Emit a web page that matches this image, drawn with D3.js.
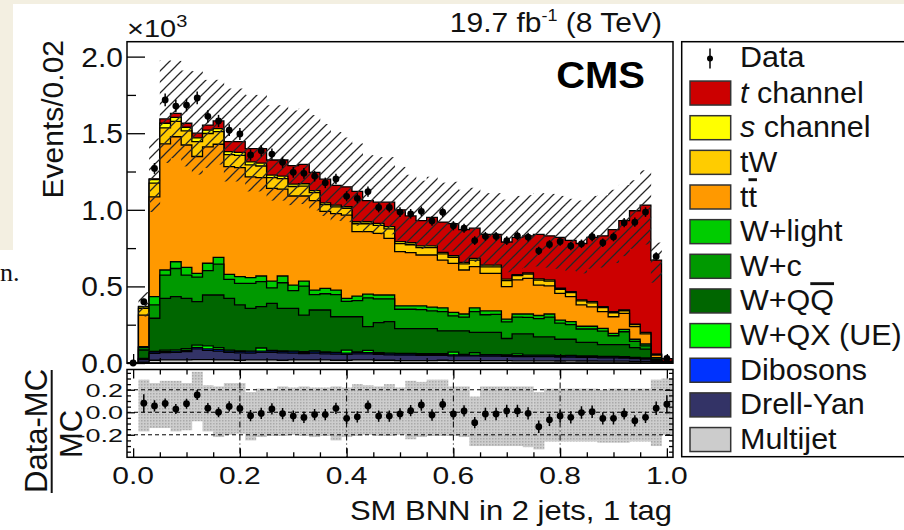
<!DOCTYPE html>
<html><head><meta charset="utf-8">
<script src="https://cdn.jsdelivr.net/npm/d3@7"></script>
<style>
html,body{margin:0;padding:0;background:#fff;}
svg{display:block;font-family:"Liberation Sans",Arial,sans-serif;}
</style></head><body>
<svg id="c" width="904" height="530"></svg>
<script>
// ---------------- DATA (units: 10^3 events / 0.02) ----------------
const binCenters = [0.00,0.02,0.04,0.06,0.08,0.10,0.12,0.14,0.16,0.18,0.20,0.22,0.24,0.26,0.28,0.30,0.32,0.34,0.36,0.38,0.40,0.42,0.44,0.46,0.48,0.50,0.52,0.54,0.56,0.58,0.60,0.62,0.64,0.66,0.68,0.70,0.72,0.74,0.76,0.78,0.80,0.82,0.84,0.86,0.88,0.90,0.92,0.94,0.96,0.98,1.00];
const binWidth = 0.02;

const tChannel = [0,.003,.004,.028,.026,.026,.030,.033,.050,.065,.070,.087,.095,.098,.105,.120,.127,.120,.155,.130,.130,.198,.138,.139,.160,.208,.175,.165,.185,.198,.210,.213,.197,.201,.201,.242,.243,.242,.291,.287,.332,.334,.368,.420,.462,.535,.584,.740,.831,.615,.018];
const sChannel = [0,.011,.024,.030,.027,.024,.025,.022,.020,.020,.020,.020,.019,.017,.017,.016,.016,.013,.011,.011,.011,.013,.013,.013,.015,.013,.013,.012,.012,.010,.010,.010,.011,.011,.011,.010,.007,.007,.008,.008,.007,.007,.007,.007,.007,.007,.005,.004,.002,.001,0];
const tW       = [0,.043,.090,.104,.100,.092,.097,.087,.082,.078,.080,.078,.076,.070,.068,.062,.064,.052,.044,.044,.044,.052,.052,.052,.061,.052,.052,.048,.048,.040,.040,.040,.043,.043,.043,.040,.028,.028,.032,.032,.026,.026,.026,.026,.026,.026,.017,.013,.008,.004,.001];
const ttbar    = [0,.207,.651,.824,.816,.799,.763,.760,.738,.703,.711,.658,.642,.605,.567,.581,.555,.584,.503,.499,.543,.420,.407,.402,.370,.354,.347,.332,.340,.312,.320,.287,.269,.245,.245,.211,.222,.233,.199,.183,.175,.163,.139,.127,.109,.108,.104,.082,.066,.017,.003];
const wLight   = [0,.006,.054,.033,.044,.050,.025,.048,.044,.033,.044,.037,.037,.045,.044,.037,.033,.030,.035,.030,.020,.030,.025,.025,.025,.022,.022,.025,.025,.025,.022,.020,.025,.025,.022,.018,.020,.022,.020,.020,.020,.020,.018,.018,.018,.016,.016,.014,.012,.008,.001];
const wC       = [0,.015,.087,.152,.184,.152,.160,.159,.202,.124,.141,.163,.163,.101,.167,.115,.189,.100,.106,.144,.100,.105,.188,.156,.149,.126,.126,.123,.115,.125,.098,.090,.135,.115,.118,.109,.110,.108,.120,.130,.105,.095,.087,.087,.088,.058,.084,.041,.022,.005,.001];
const wQQ      = [0,.055,.216,.338,.347,.329,.283,.332,.344,.338,.300,.280,.270,.306,.278,.279,.239,.267,.274,.232,.218,.230,.154,.196,.206,.163,.163,.164,.164,.149,.139,.154,.133,.145,.145,.107,.130,.139,.119,.119,.107,.106,.089,.089,.077,.077,.079,.063,.056,.002,.001];
const wQX      = [0,.004,.005,.008,.008,.010,.015,.020,.012,.006,.005,.004,.020,.005,.005,.005,.004,.006,.004,.004,.020,.004,.015,.004,.004,.004,.004,.004,.004,.004,.018,.004,.015,.004,.004,.004,.012,.004,.004,.004,.004,.004,.004,.004,.004,.004,.004,.004,.004,.002,0];
const dibosons = [0,.004,.008,.008,.008,.008,.010,.010,.010,.008,.008,.008,.008,.008,.008,.008,.008,.008,.008,.008,.008,.008,.008,.007,.007,.007,.007,.007,.007,.007,.007,.006,.006,.006,.006,.006,.006,.006,.006,.006,.006,.006,.005,.005,.005,.005,.005,.004,.004,.002,0];
const drellYan = [0,.016,.045,.048,.050,.055,.070,.060,.058,.050,.048,.045,.050,.050,.048,.045,.042,.045,.040,.040,.038,.040,.040,.038,.035,.035,.035,.034,.034,.032,.030,.030,.030,.030,.030,.028,.028,.027,.027,.027,.025,.025,.024,.024,.022,.022,.020,.018,.016,.008,.001];
const multijet = [0,.006,.018,.020,.020,.020,.022,.022,.020,.020,.018,.020,.020,.020,.018,.020,.020,.020,.020,.018,.018,.020,.020,.018,.018,.016,.016,.016,.016,.018,.016,.016,.016,.015,.015,.015,.014,.014,.014,.014,.013,.014,.013,.013,.012,.012,.012,.011,.010,.008,.002];

const dataObs  = [0,.400,1.270,1.717,1.677,1.684,1.730,1.610,1.580,1.520,1.495,1.358,1.386,1.364,1.310,1.245,1.238,1.220,1.176,1.201,1.088,1.075,1.119,1.015,1.015,.985,.974,.990,.927,.984,.896,.880,.799,.827,.827,.799,.830,.822,.732,.774,.793,.764,.778,.824,.785,.823,.916,.919,.985,.696,.030];

// relative MC uncertainty: hatched band (main) and grey band (ratio)
const hatchUp  = [0,.25,.22,.24,.21,.22,.27,.19,.17,.24,.24,.25,.25,.27,.27,.28,.28,.30,.30,.30,.28,.28,.28,.28,.28,.28,.28,.28,.28,.28,.30,.30,.30,.32,.32,.35,.33,.32,.32,.33,.33,.34,.36,.33,.32,.30,.25,.20,.22,.17,.30];
const hatchDn  = [0,.18,.18,.18,.18,.18,.18,.18,.18,.18,.18,.20,.20,.20,.20,.20,.20,.20,.20,.20,.20,.20,.20,.20,.20,.20,.20,.20,.20,.20,.20,.25,.25,.25,.25,.25,.25,.25,.25,.25,.25,.25,.25,.25,.25,.25,.25,.25,.25,.22,.30];
const ratioUp  = [0,.29,.26,.28,.28,.26,.36,.24,.23,.26,.26,.18,.21,.21,.23,.22,.23,.22,.22,.23,.22,.25,.24,.23,.25,.22,.28,.27,.29,.29,.23,.23,.14,.23,.23,.23,.23,.23,.18,.21,.21,.21,.21,.21,.20,.21,.21,.21,.21,.29,.30];
const ratioDn  = [0,.17,.14,.14,.17,.16,.08,.17,.22,.20,.19,.25,.22,.21,.21,.20,.21,.22,.21,.25,.22,.21,.20,.21,.21,.20,.24,.22,.21,.21,.21,.22,.30,.30,.30,.30,.30,.31,.33,.26,.26,.26,.26,.26,.27,.27,.27,.26,.26,.30,.20];
const ratioErr = [0,.08,.05,.045,.045,.045,.045,.045,.045,.045,.045,.05,.05,.05,.05,.05,.05,.05,.05,.05,.05,.05,.05,.05,.05,.05,.05,.05,.05,.05,.05,.05,.05,.055,.055,.055,.055,.055,.055,.055,.055,.055,.055,.055,.055,.055,.05,.05,.05,.06,.08];

const mainYMajor = [0,0.5,1.0,1.5,2.0];
const mainYMinor = [0.25,0.75,1.25,1.75];
const xMajor = [0,0.2,0.4,0.6,0.8,1.0];
const xMinor = [0.05,0.1,0.15,0.25,0.3,0.35,0.45,0.5,0.55,0.65,0.7,0.75,0.85,0.9,0.95];
const ratioMajor = [-0.2,0,0.2];
const ratioMinor = [-0.35,-0.3,-0.25,-0.15,-0.1,-0.05,0.05,0.1,0.15,0.25,0.3,0.35];

const keys = ["multijet","drellYan","dibosons","wQX","wQQ","wC","wLight","ttbar","tW","sChannel","tChannel"];
const series = {multijet,drellYan,dibosons,wQX,wQQ,wC,wLight,ttbar,tW,sChannel,tChannel};
const colors = {multijet:"#cccccc",drellYan:"#333366",dibosons:"#0033ff",wQX:"#00ff00",wQQ:"#006600",wC:"#009900",wLight:"#00cc00",ttbar:"#ff9900",tW:"#ffcc00",sChannel:"#ffff00",tChannel:"#cc0000"};
const legendRows = [
  {key:"tChannel", parts:[["t","italic"],[" channel"]]},
  {key:"sChannel", parts:[["s","italic"],[" channel"]]},
  {key:"tW", parts:[["tW"]]},
  {key:"ttbar", parts:[["t"],["t","over"]]},
  {key:"wLight", parts:[["W+light"]]},
  {key:"wC", parts:[["W+c"]]},
  {key:"wQQ", parts:[["W+Q"],["Q","over"]]},
  {key:"wQX", parts:[["W+QX (UE)"]]},
  {key:"dibosons", parts:[["Dibosons"]]},
  {key:"drellYan", parts:[["Drell-Yan"]]},
  {key:"multijet", parts:[["Multijet"]]}
];

// ---------------- DRAW ----------------
const W=904,H=530;
const svg=d3.select("#c");
const defs=svg.append("defs");
const hp=defs.append("pattern").attr("id","hatch").attr("patternUnits","userSpaceOnUse").attr("width",11).attr("height",11);
hp.append("path").attr("d","M0,11 L11,0 M-5.5,5.5 L5.5,-5.5 M5.5,16.5 L16.5,5.5").attr("stroke","#262626").attr("stroke-width",1.25);
const gp=defs.append("pattern").attr("id","grey").attr("patternUnits","userSpaceOnUse").attr("width",3).attr("height",3);
gp.append("rect").attr("width",3).attr("height",3).attr("fill","#cdcdcd");
gp.append("rect").attr("width",1.5).attr("height",1.5).attr("fill","#a9a9a9");
defs.append("clipPath").attr("id","mainClip").append("rect").attr("x",127).attr("y",41.7).attr("width",546).attr("height",321.5);
defs.append("clipPath").attr("id","ratioClip").append("rect").attr("x",127).attr("y",369.5).attr("width",546).attr("height",87.8);

svg.append("rect").attr("width",W).attr("height",H).attr("fill","#fff");
svg.append("rect").attr("x",0).attr("y",0).attr("width",W).attr("height",4).attr("fill","#f3efe1");
svg.append("rect").attr("x",0).attr("y",0).attr("width",13).attr("height",250).attr("fill","#f3efe1");
svg.append("text").attr("x",0).attr("y",281).attr("font-family","'Liberation Serif',serif").attr("font-size",26).attr("fill","#111").text("n.");

const x=d3.scaleLinear().domain([-0.0115,1.0115]).range([127,673]);
const y=d3.scaleLinear().domain([0,2.1]).range([363,41.3]);
const yr=d3.scaleLinear().domain([-0.4,0.38]).range([457.3,369.5]);

const rows=binCenters.map((c,i)=>{const r={c}; keys.forEach(k=>r[k]=series[k][i]); return r;});
const stacked=d3.stack().keys(keys)(rows);
const mcTotal=rows.map((r,i)=>stacked[stacked.length-1][i][1]);

function stepPath(vals){
  let d=`M${x(binCenters[0]-binWidth/2)},${y(0)}`;
  vals.forEach((v,i)=>{d+=`L${x(binCenters[i]-binWidth/2)},${y(v)}L${x(binCenters[i]+binWidth/2)},${y(v)}`;});
  d+=`L${x(binCenters[binCenters.length-1]+binWidth/2)},${y(0)}Z`;
  return d;
}
const gMain=svg.append("g").attr("clip-path","url(#mainClip)");
for(let k=stacked.length-1;k>=0;k--){
  const tops=stacked[k].map(d=>d[1]);
  gMain.append("path").attr("d",stepPath(tops)).attr("fill",colors[stacked[k].key]).attr("stroke","#000").attr("stroke-width",1.3).attr("stroke-linejoin","miter");
}
// hatched uncertainty band
gMain.selectAll("rect.band").data(binCenters.map((c,i)=>i).filter(i=>mcTotal[i]>0)).join("rect")
  .attr("x",i=>x(binCenters[i]-binWidth/2)).attr("width",i=>x(binCenters[i]+binWidth/2)-x(binCenters[i]-binWidth/2)+0.3)
  .attr("y",i=>y(mcTotal[i]*(1+hatchUp[i]))).attr("height",i=>y(mcTotal[i]*(1-hatchDn[i]))-y(mcTotal[i]*(1+hatchUp[i])))
  .attr("fill","url(#hatch)");
// data points
const gData=svg.append("g");
binCenters.forEach((c,i)=>{
  const v=dataObs[i], e=Math.sqrt(v*1000)/1000;
  gData.append("line").attr("x1",x(c)).attr("x2",x(c)).attr("y1",y(v+e)).attr("y2",y(Math.max(0,v-e))).attr("stroke","#000").attr("stroke-width",1.5);
  gData.append("circle").attr("cx",x(c)).attr("cy",y(v)).attr("r",3.4).attr("fill","#000");
});
// main frame & axes
svg.append("rect").attr("x",127).attr("y",41.7).attr("width",546).attr("height",321.5).attr("fill","none").attr("stroke","#000").attr("stroke-width",1.5);
function axisG(axis,tx,ty){const g=svg.append("g").attr("transform",`translate(${tx},${ty})`).call(axis); g.select(".domain").remove(); g.selectAll("line").attr("stroke","#000").attr("stroke-width",1.3); g.selectAll("text").remove(); return g;}
axisG(d3.axisLeft(y).tickValues(mainYMajor).tickSize(-18),127,0);
axisG(d3.axisLeft(y).tickValues(mainYMinor).tickSize(-9),127,0);
axisG(d3.axisBottom(x).tickValues(xMajor).tickSize(-9),0,363);
axisG(d3.axisBottom(x).tickValues(xMinor).tickSize(-5),0,363);

function txt(px,py,size,anchor,sy,build,extra){
  const g=svg.append("g").attr("transform",`translate(${px},${py}) scale(1,${sy})`);
  const t=g.append("text").attr("x",0).attr("y",0).attr("font-size",size).attr("text-anchor",anchor).attr("fill","#111");
  if(typeof build==="string") t.text(build); else build(t);
  if(extra) extra(t);
  return t;
}
mainYMajor.forEach(v=>txt(123,y(v)+10,30,"end",0.93,d3.format(".1f")(v)));
txt(127,37,29,"start",0.8,t=>{t.append("tspan").text("\u00d710"); t.append("tspan").attr("font-size",20).attr("dy",-13).text("3");});
txt(662,31.5,30,"end",0.95,t=>{t.append("tspan").text("19.7 fb"); t.append("tspan").attr("font-size",18).attr("dy",-11).text("-1"); t.append("tspan").attr("dy",11).text(" (8 TeV)");});
txt(645,88.3,40,"end",0.9,"CMS",t=>t.attr("font-weight","bold").attr("fill","#000"));
svg.append("text").attr("transform","translate(63,40) rotate(-90)").attr("text-anchor","end").attr("font-size",30).attr("fill","#111").text("Events/0.02");

// ratio panel
const gR=svg.append("g").attr("clip-path","url(#ratioClip)");
gR.selectAll("rect.rb").data(binCenters.map((c,i)=>i).filter(i=>mcTotal[i]>0)).join("rect")
  .attr("x",i=>x(binCenters[i]-binWidth/2)).attr("width",i=>x(binCenters[i]+binWidth/2)-x(binCenters[i]-binWidth/2)+0.3)
  .attr("y",i=>yr(ratioUp[i])).attr("height",i=>yr(-ratioDn[i])-yr(ratioUp[i])).attr("fill","url(#grey)");
ratioMajor.forEach(v=>gR.append("line").attr("x1",127).attr("x2",673).attr("y1",yr(v)).attr("y2",yr(v)).attr("stroke","#000").attr("stroke-width",1).attr("stroke-dasharray","4,3"));
xMajor.slice(1,5).forEach(v=>gR.append("line").attr("x1",x(v)).attr("x2",x(v)).attr("y1",369.5).attr("y2",457.3).attr("stroke","#000").attr("stroke-width",1).attr("stroke-dasharray","6,3,1,3"));
binCenters.forEach((c,i)=>{
  if(!(mcTotal[i]>0)) return;
  const r=(dataObs[i]-mcTotal[i])/mcTotal[i];
  gR.append("line").attr("x1",x(c)).attr("x2",x(c)).attr("y1",yr(r+ratioErr[i])).attr("y2",yr(r-ratioErr[i])).attr("stroke","#000").attr("stroke-width",1.5);
  gR.append("circle").attr("cx",x(c)).attr("cy",yr(r)).attr("r",3.4).attr("fill","#000");
});
svg.append("rect").attr("x",127).attr("y",369.5).attr("width",546).attr("height",87.8).attr("fill","none").attr("stroke","#000").attr("stroke-width",1.5);
axisG(d3.axisTop(x).tickValues(xMajor).tickSize(-9),0,369.5);
axisG(d3.axisTop(x).tickValues(xMinor).tickSize(-5),0,369.5);
axisG(d3.axisBottom(x).tickValues(xMajor).tickSize(-9),0,457.3);
axisG(d3.axisBottom(x).tickValues(xMinor).tickSize(-5),0,457.3);
axisG(d3.axisLeft(yr).tickValues(ratioMajor).tickSize(-8),127,0);
axisG(d3.axisLeft(yr).tickValues(ratioMinor).tickSize(-4),127,0);
axisG(d3.axisRight(yr).tickValues(ratioMajor).tickSize(-8),673,0);
axisG(d3.axisRight(yr).tickValues(ratioMinor).tickSize(-4),673,0);
ratioMajor.forEach(v=>txt(123,yr(v)+7,27,"end",0.68,d3.format(".1f")(v).replace("\u2212","-")));
xMajor.forEach(v=>txt(x(v),484,30,"middle",0.8,d3.format(".1f")(v)));
txt(672,519.5,31,"end",0.9,"SM BNN in 2 jets, 1 tag");
svg.append("text").attr("transform","translate(47,431) rotate(-90)").attr("text-anchor","middle").attr("font-size",31).attr("fill","#111").text("Data-MC");
svg.append("text").attr("transform","translate(82,434) rotate(-90)").attr("text-anchor","middle").attr("font-size",31).attr("fill","#111").text("MC");
svg.append("line").attr("x1",51.7).attr("x2",51.7).attr("y1",370).attr("y2",493).attr("stroke","#111").attr("stroke-width",2);

// legend
svg.append("rect").attr("x",681.7).attr("y",41.7).attr("width",240).attr("height",415).attr("fill","#fff").attr("stroke","#000").attr("stroke-width",1.5);
const rowY=i=>58.4+34.65*i;
svg.append("line").attr("x1",710).attr("x2",710).attr("y1",rowY(0)-10).attr("y2",rowY(0)+10).attr("stroke","#000").attr("stroke-width",1.5);
svg.append("circle").attr("cx",710).attr("cy",rowY(0)).attr("r",3).attr("fill","#000");
txt(740,rowY(0)+9,30.5,"start",0.95,"Data");
legendRows.forEach((r,j)=>{
  const cy=rowY(j+1);
  svg.append("rect").attr("x",690).attr("y",cy-12).attr("width",40.7).attr("height",24).attr("fill",colors[r.key]).attr("stroke","#333").attr("stroke-width",1.5);
  txt(740,cy+9.5,30.5,"start",0.95,t=>{
    r.parts.forEach(p=>{const s=t.append("tspan").text(p[0]); if(p[1]==="italic") s.attr("font-style","italic"); if(p[1]==="over") s.style("text-decoration","overline");});
  });
});
</script>
</body></html>
